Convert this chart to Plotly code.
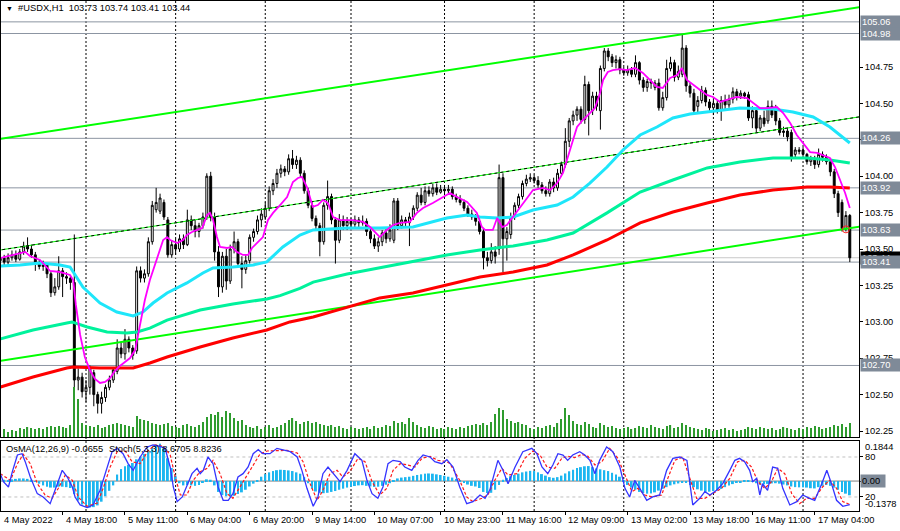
import plotly.graph_objects as go

# #USDX H1, one entry per hourly bar (bar index is the x value)
bar = list(range(219))

open_ = [103.42, 103.44, 103.41, 103.44, 103.46, 103.43, 103.48, 103.52, 103.50, 103.46,
         103.40, 103.38, 103.39, 103.33, 103.20, 103.24, 103.35, 103.31, 103.30, 103.27,
         102.60, 102.62, 102.52, 102.55, 102.65, 102.50, 102.44, 102.48, 102.55, 102.60,
         102.66, 102.82, 102.78, 102.88, 102.82, 102.80, 103.35, 103.30, 103.33, 103.55,
         103.77, 103.76, 103.82, 103.70, 103.46, 103.53, 103.50, 103.57, 103.53, 103.70,
         103.66, 103.62, 103.66, 103.72, 104.00, 103.72, 103.48, 103.24, 103.45, 103.28,
         103.50, 103.55, 103.40, 103.36, 103.42, 103.58, 103.62, 103.70, 103.72, 103.78,
         103.90, 103.95, 104.02, 104.05, 104.03, 104.12, 104.08, 104.11, 104.02, 103.90,
         103.80, 103.71, 103.66, 103.55, 103.80, 103.86, 103.70, 103.56, 103.70, 103.66,
         103.69, 103.67, 103.70, 103.68, 103.69, 103.62, 103.57, 103.52, 103.55, 103.61,
         103.57, 103.56, 103.83, 103.66, 103.70, 103.68, 103.72, 103.78, 103.87, 103.82,
         103.90, 103.88, 103.92, 103.89, 103.91, 103.90, 103.91, 103.86, 103.84, 103.82,
         103.78, 103.74, 103.72, 103.69, 103.62, 103.44, 103.42, 103.48, 103.50, 103.99,
         103.57, 103.60, 103.72, 103.80, 103.86, 103.95, 103.98, 103.99, 103.97, 103.94,
         103.90, 103.88, 103.96, 103.92, 104.02, 104.08, 104.24, 104.38, 104.42, 104.46,
         104.39, 104.63, 104.45, 104.55, 104.45, 104.74, 104.86, 104.82, 104.78, 104.80,
         104.73, 104.71, 104.73, 104.70, 104.78, 104.66, 104.61, 104.65, 104.61, 104.64,
         104.47, 104.54, 104.74, 104.78, 104.68, 104.70, 104.88, 104.62, 104.57, 104.48,
         104.52, 104.59, 104.51, 104.47, 104.50, 104.45, 104.52, 104.49, 104.53, 104.58,
         104.55, 104.57, 104.56, 104.40, 104.45, 104.33, 104.40, 104.38, 104.48, 104.46,
         104.38, 104.30, 104.31, 104.30, 104.15, 104.17, 104.18, 104.15, 104.10, 104.12,
         104.08, 104.15, 104.13, 104.10, 104.03, 103.88, 103.82, 103.64, 103.73]

high = [103.47, 103.46, 103.47, 103.49, 103.49, 103.50, 103.55, 103.58, 103.53, 103.48,
        103.43, 103.42, 103.40, 103.35, 103.30, 103.45, 103.37, 103.34, 103.32, 103.60,
        102.68, 102.65, 102.60, 102.70, 102.67, 102.52, 102.52, 102.57, 102.63, 102.69,
        102.88, 102.86, 102.95, 102.90, 102.84, 103.38, 103.38, 103.36, 103.58, 103.83,
        103.92, 103.88, 103.84, 103.72, 103.56, 103.57, 103.60, 103.60, 103.77, 103.73,
        103.70, 103.68, 103.75, 104.02, 104.03, 103.75, 103.52, 103.48, 103.50, 103.53,
        103.62, 103.57, 103.45, 103.46, 103.60, 103.64, 103.73, 103.78, 103.82, 103.93,
        103.98, 104.05, 104.08, 104.07, 104.15, 104.18, 104.14, 104.13, 104.04, 103.92,
        103.83, 103.73, 103.68, 103.82, 103.97, 103.88, 103.72, 103.74, 103.73, 103.72,
        103.71, 103.73, 103.72, 103.73, 103.71, 103.64, 103.60, 103.58, 103.63, 103.64,
        103.67, 103.85, 103.85, 103.73, 103.72, 103.75, 103.80, 103.89, 103.92, 103.93,
        103.93, 103.95, 103.95, 103.94, 103.94, 103.94, 103.93, 103.88, 103.87, 103.84,
        103.80, 103.77, 103.74, 103.71, 103.64, 103.48, 103.54, 103.52, 104.08, 104.02,
        103.65, 103.75, 103.82, 103.88, 103.97, 104.01, 104.02, 104.01, 104.00, 103.96,
        103.93, 103.98, 103.99, 104.05, 104.10, 104.33, 104.40, 104.45, 104.48, 104.48,
        104.69, 104.65, 104.58, 104.58, 104.76, 104.88, 104.88, 104.84, 104.83, 104.82,
        104.75, 104.76, 104.75, 104.83, 104.79, 104.68, 104.67, 104.67, 104.66, 104.67,
        104.58, 104.80, 104.82, 104.80, 104.76, 104.97, 104.90, 104.64, 104.60, 104.55,
        104.62, 104.61, 104.53, 104.53, 104.52, 104.55, 104.56, 104.56, 104.61, 104.60,
        104.59, 104.58, 104.58, 104.48, 104.47, 104.42, 104.45, 104.52, 104.52, 104.49,
        104.40, 104.34, 104.33, 104.32, 104.20, 104.20, 104.20, 104.16, 104.14, 104.14,
        104.19, 104.17, 104.15, 104.12, 104.05, 103.90, 103.84, 103.76, 103.74]

low = [103.40, 103.39, 103.39, 103.42, 103.41, 103.42, 103.46, 103.48, 103.44, 103.35,
       103.36, 103.35, 103.30, 103.17, 103.18, 103.22, 103.17, 103.26, 103.22, 102.55,
       102.53, 102.48, 102.45, 102.50, 102.42, 102.37, 102.37, 102.45, 102.53, 102.58,
       102.64, 102.75, 102.74, 102.79, 102.74, 102.78, 103.27, 103.27, 103.31, 103.53,
       103.75, 103.74, 103.70, 103.44, 103.44, 103.46, 103.48, 103.50, 103.52, 103.63,
       103.58, 103.58, 103.64, 103.70, 103.69, 103.42, 103.17, 103.20, 103.22, 103.26,
       103.47, 103.38, 103.23, 103.33, 103.40, 103.55, 103.60, 103.65, 103.70, 103.76,
       103.87, 103.92, 103.99, 104.00, 104.01, 104.05, 104.05, 103.99, 103.88, 103.78,
       103.69, 103.63, 103.45, 103.53, 103.77, 103.67, 103.40, 103.54, 103.63, 103.63,
       103.64, 103.65, 103.65, 103.66, 103.59, 103.54, 103.50, 103.48, 103.52, 103.54,
       103.55, 103.54, 103.63, 103.64, 103.65, 103.52, 103.70, 103.76, 103.80, 103.80,
       103.86, 103.86, 103.87, 103.88, 103.88, 103.88, 103.84, 103.82, 103.80, 103.76,
       103.72, 103.70, 103.66, 103.60, 103.36, 103.38, 103.40, 103.40, 103.46, 103.34,
       103.42, 103.57, 103.70, 103.78, 103.84, 103.93, 103.96, 103.95, 103.92, 103.88,
       103.86, 103.86, 103.89, 103.90, 104.00, 104.06, 104.20, 104.35, 104.38, 104.36,
       104.36, 104.28, 104.42, 104.45, 104.32, 104.72, 104.79, 104.75, 104.74, 104.70,
       104.69, 104.69, 104.68, 104.68, 104.63, 104.58, 104.58, 104.60, 104.59, 104.45,
       104.45, 104.52, 104.72, 104.65, 104.66, 104.68, 104.58, 104.54, 104.43, 104.44,
       104.50, 104.48, 104.44, 104.42, 104.43, 104.38, 104.46, 104.47, 104.50, 104.52,
       104.53, 104.53, 104.38, 104.33, 104.30, 104.31, 104.34, 104.36, 104.40, 104.35,
       104.28, 104.27, 104.24, 104.10, 104.13, 104.15, 104.12, 104.08, 104.07, 104.05,
       104.06, 104.10, 104.08, 104.00, 103.85, 103.72, 103.62, 103.62, 103.41]

close = [103.44, 103.41, 103.44, 103.46, 103.43, 103.48, 103.52, 103.50, 103.46, 103.40,
         103.38, 103.39, 103.33, 103.20, 103.24, 103.35, 103.31, 103.30, 103.27, 102.60,
         102.62, 102.52, 102.55, 102.68, 102.50, 102.44, 102.48, 102.55, 102.60, 102.67,
         102.82, 102.78, 102.88, 102.82, 102.77, 103.35, 103.30, 103.33, 103.55, 103.80,
         103.82, 103.85, 103.72, 103.46, 103.53, 103.50, 103.57, 103.53, 103.70, 103.66,
         103.62, 103.66, 103.72, 104.00, 103.72, 103.48, 103.24, 103.45, 103.28, 103.50,
         103.55, 103.40, 103.36, 103.42, 103.58, 103.62, 103.70, 103.74, 103.78, 103.90,
         103.95, 104.02, 104.05, 104.03, 104.12, 104.08, 104.11, 104.02, 103.90, 103.80,
         103.71, 103.66, 103.55, 103.80, 103.86, 103.70, 103.56, 103.70, 103.66, 103.69,
         103.67, 103.70, 103.68, 103.69, 103.62, 103.57, 103.52, 103.55, 103.61, 103.57,
         103.63, 103.83, 103.66, 103.70, 103.68, 103.72, 103.78, 103.87, 103.82, 103.90,
         103.88, 103.92, 103.89, 103.91, 103.90, 103.91, 103.86, 103.84, 103.82, 103.78,
         103.74, 103.72, 103.69, 103.62, 103.44, 103.42, 103.48, 103.45, 103.99, 103.57,
         103.62, 103.72, 103.80, 103.86, 103.95, 103.98, 103.99, 103.97, 103.94, 103.90,
         103.88, 103.96, 103.92, 104.02, 104.08, 104.24, 104.38, 104.42, 104.46, 104.39,
         104.63, 104.45, 104.55, 104.48, 104.74, 104.86, 104.82, 104.78, 104.80, 104.73,
         104.71, 104.73, 104.70, 104.78, 104.66, 104.61, 104.65, 104.64, 104.64, 104.47,
         104.54, 104.74, 104.78, 104.68, 104.72, 104.88, 104.62, 104.57, 104.45, 104.52,
         104.59, 104.51, 104.47, 104.50, 104.45, 104.52, 104.49, 104.53, 104.58, 104.55,
         104.57, 104.55, 104.40, 104.45, 104.33, 104.40, 104.36, 104.48, 104.42, 104.38,
         104.30, 104.31, 104.27, 104.13, 104.18, 104.18, 104.15, 104.10, 104.12, 104.08,
         104.15, 104.13, 104.10, 104.03, 103.88, 103.75, 103.64, 103.73, 103.44]

volume = [6, 8, 5, 7, 6, 9, 8, 10, 9, 8,
          9, 8, 10, 11, 10, 11, 10, 9, 12,
          50, 38, 14, 12, 11, 10, 12, 9, 10, 12,
          13, 14, 13, 12, 11, 10,
          21, 18, 17, 16, 14, 13, 12, 13, 14, 11,
          10, 9, 12, 13, 11, 10, 12, 15,
          20, 23, 22, 25, 20, 26, 24, 19, 16, 17, 12,
          10, 9, 11, 8, 10, 12, 9,
          10, 12, 14, 17, 19, 16,
          13, 15, 16, 14, 15, 13, 12, 11,
          12, 10, 11, 9, 8, 10, 9, 8,
          9, 10, 8, 11, 9, 10, 12, 11,
          16, 14, 15, 13, 19, 15, 12, 10,
          9, 11, 10, 8, 9, 8, 10, 9,
          8, 10, 9, 11, 12, 13, 12,
          14, 12, 15, 23, 29, 27, 18, 16, 14, 15, 13, 12,
          9, 8, 10, 9, 11, 12, 10,
          14, 18, 29, 22, 16, 13, 12,
          15, 13, 10, 9, 14, 12, 10, 11, 9,
          8, 9, 10, 8, 9, 11, 10, 9, 12, 10, 9, 8,
          11, 12, 9, 10, 14, 12, 10, 9,
          8, 7, 9, 8, 6, 7, 8, 9, 7, 8, 6, 7, 8,
          10, 9, 8, 10, 9, 8, 9, 7, 8, 10, 9, 8, 7, 9,
          8, 10, 9, 11, 10, 8, 9, 10, 12, 11, 13, 10, 14]

# moving averages (bar position, price)
fast_bar = [0, 5.1, 6.4, 7.6, 10.2, 12.8, 15.3, 17.9, 18.7, 19.4,
            20.5, 21.7, 23, 24.3, 25.6, 26.9, 28.2, 29.4, 30.7, 32,
            33.3, 34.6, 35.9, 37.1, 38.4, 39.7, 41, 41.8, 42.8, 43.6,
            45.4, 46.9, 47.9, 49.2, 50.5, 51.8, 53.1, 53.8, 54.6, 55.6,
            56.4, 58.2, 59.5, 60.7, 62.3, 63.6, 64.6, 65.9, 67.4, 68.7,
            70, 71.8, 73.6, 75.1, 76.4, 77.4, 78.7, 80.2, 81.5, 82.8,
            84.1, 85.4, 87.2, 90.5, 93.1, 94.9, 96.7, 97.4, 99.2, 100.8,
            102.6, 105.1, 106.9, 108.5, 111, 113.6, 115.4, 117.2, 119.8, 122.3,
            123.6, 124.4, 126.4, 127.5, 128.8, 130, 131.6, 133.4, 135.2, 136.7,
            139.3, 141.1, 142.9, 144.4, 146.2, 148, 149.5, 151.3, 152.6, 153.9,
            154.7, 155.9, 157.2, 159, 160.8, 162.9, 164.9, 166.7, 168.5, 170,
            171.9, 173.7, 174.9, 176.2, 177.8, 179.6, 181.3, 182.9, 184.7, 186.5,
            189, 191.6, 193.2, 194.9, 196.8, 199.3, 200.9, 202.7, 204.4, 206,
            207.8, 209.6, 211.1, 212.9, 214.2, 215.5, 216.8, 218]
fast_ma = [103.438, 103.473, 103.480, 103.452, 103.425, 103.349, 103.342, 103.322, 103.287, 103.116,
           102.910, 102.758, 102.669, 102.607, 102.580, 102.587, 102.614, 102.662, 102.697, 102.724,
           102.751, 102.806, 102.978, 103.150, 103.287, 103.390, 103.493, 103.562, 103.582, 103.562,
           103.541, 103.562, 103.596, 103.617, 103.631, 103.644, 103.734, 103.748, 103.700, 103.582,
           103.514, 103.507, 103.514, 103.480, 103.459, 103.459, 103.507, 103.541, 103.582, 103.700,
           103.748, 103.802, 103.857, 103.960, 103.988, 103.995, 103.926, 103.789, 103.802, 103.837,
           103.816, 103.720, 103.699, 103.699, 103.686, 103.651, 103.596, 103.582, 103.631, 103.665,
           103.679, 103.686, 103.748, 103.782, 103.816, 103.857, 103.885, 103.857, 103.823, 103.748,
           103.651, 103.631, 103.631, 103.713, 103.651, 103.665, 103.720, 103.789, 103.850, 103.905,
           103.919, 103.905, 103.953, 104.022, 104.180, 104.338, 104.386, 104.434, 104.468, 104.571,
           104.661, 104.716, 104.729, 104.736, 104.729, 104.743, 104.709, 104.661, 104.613, 104.606,
           104.675, 104.695, 104.743, 104.661, 104.626, 104.592, 104.558, 104.544, 104.510, 104.523,
           104.544, 104.537, 104.503, 104.468, 104.468, 104.475, 104.434, 104.365, 104.283, 104.228,
           104.166, 104.160, 104.146, 104.125, 104.063, 103.974, 103.885, 103.782]

cyan_bar = [0, 5.1, 10.2, 15.3, 17.9, 19.2, 21.2, 25.6, 29.9, 34.1,
            36.6, 39.2, 42.8, 47.9, 52, 54.6, 59.7, 64.9, 68.4, 72.5,
            76.9, 80.3, 89, 97.4, 105.9, 114.6, 119.8, 123.1, 127.5, 131.6,
            136.7, 142.9, 147, 151.3, 155.7, 159.8, 164.2, 168.5, 172.6, 177,
            181.4, 189.8, 198.3, 203.4, 208.6, 212.9, 218]
cyan_ma = [103.383, 103.390, 103.404, 103.390, 103.376, 103.321, 103.239, 103.129, 103.067, 103.040,
           103.067, 103.129, 103.198, 103.267, 103.335, 103.370, 103.376, 103.390, 103.411, 103.514,
           103.596, 103.631, 103.644, 103.644, 103.651, 103.713, 103.734, 103.720, 103.713, 103.720,
           103.768, 103.802, 103.857, 103.953, 104.063, 104.180, 104.283, 104.338, 104.400, 104.427,
           104.441, 104.468, 104.462, 104.441, 104.407, 104.338, 104.228]

green_bar = [0, 8.4, 17.1, 18.4, 22.3, 27.4, 32.5, 35.1, 38.4, 42.8,
             51.3, 59.7, 68.4, 71.8, 76.9, 80.3, 89, 97.4, 105.9, 114.6,
             123.1, 131.6, 140.3, 147, 155.7, 164.2, 172.6, 181.4, 189.8, 198.3,
             207, 212.9, 218]
green_ma = [102.882, 102.944, 102.992, 102.999, 102.964, 102.930, 102.923, 102.930, 102.957, 103.012,
            103.081, 103.122, 103.157, 103.180, 103.230, 103.273, 103.328, 103.370, 103.411, 103.459,
            103.493, 103.521, 103.562, 103.610, 103.748, 103.891, 103.974, 104.057, 104.098, 104.125,
            104.125, 104.111, 104.091]

red_bar = [0, 8.4, 17.1, 18.7, 25.6, 34.1, 38.4, 42.8, 51.3, 59.7,
           68.4, 74.3, 80.3, 89, 97.4, 105.9, 114.6, 123.1, 131.6, 140.3,
           147, 155.7, 164.2, 172.6, 181.4, 189.8, 198.3, 207, 212.9, 218]
red_ma = [102.552, 102.621, 102.683, 102.690, 102.683, 102.683, 102.717, 102.758, 102.827, 102.889,
          102.944, 102.999, 103.033, 103.102, 103.164, 103.198, 103.253, 103.308, 103.342, 103.390,
          103.459, 103.562, 103.679, 103.754, 103.816, 103.871, 103.905, 103.926, 103.926, 103.919]

# equidistant channel, endpoints just outside the visible bars
chan_bar = [-1, 222]
chan_top = [104.252, 105.167]
chan_mid = [103.489, 104.414]
chan_low = [102.727, 103.660]

levels = [105.06, 104.98, 104.26, 103.92, 103.63, 102.70, 103.41]
bid = 103.44

# OsMA(12,26,9) histogram, one value per bar
osma = [0.008, 0.006, 0.004, 0.008, 0.010, 0.012, 0.012, 0.010, 0.006,
        -0.004, -0.012, -0.020, -0.026, -0.030, -0.030, -0.026, -0.026, -0.028, -0.032,
        -0.060, -0.090, -0.108, -0.118, -0.122, -0.120, -0.112, -0.095, -0.070, -0.045, -0.020,
        0.030, 0.055, 0.068, 0.075, 0.083, 0.100, 0.112, 0.125, 0.140, 0.155, 0.168, 0.172,
        0.150, 0.105, 0.060, 0.025, -0.010, -0.020, -0.018, -0.020, -0.022, -0.018, -0.008, 0.008, 0.006,
        -0.020, -0.050, -0.065, -0.070, -0.072, -0.068, -0.060, -0.052, -0.040, -0.025, -0.012,
        0.004, 0.020, 0.032, 0.040, 0.046, 0.050, 0.052, 0.051, 0.049, 0.046, 0.040, 0.034, 0.018,
        -0.010, -0.035, -0.048, -0.054, -0.056, -0.054, -0.050, -0.046, -0.040, -0.035, -0.030,
        -0.026, -0.023, -0.020, -0.019, -0.022, -0.025, -0.027, -0.026, -0.022, -0.017, -0.010,
        0.004, 0.012, 0.016, 0.018, 0.020, 0.024, 0.028, 0.031, 0.034, 0.035, 0.034, 0.031,
        0.028, 0.024, 0.020, 0.016, 0.010, 0.004,
        -0.008, -0.016, -0.022, -0.025, -0.032, -0.050, -0.055, -0.054, -0.040, -0.018,
        0.006, 0.014, 0.022, 0.028, 0.034, 0.040, 0.044, 0.047, 0.046, 0.040, 0.032, 0.025,
        0.018, 0.015, 0.018, 0.025, 0.035, 0.045, 0.052, 0.060, 0.064, 0.068, 0.069, 0.064,
        0.058, 0.054, 0.050, 0.046, 0.038, 0.030, 0.020, 0.005,
        -0.018, -0.030, -0.040, -0.050, -0.055, -0.058, -0.057, -0.052, -0.044, -0.036,
        -0.028, -0.020, -0.015, -0.011, -0.007, -0.008, -0.018, -0.028, -0.038, -0.044,
        -0.050, -0.049, -0.046, -0.042, -0.036, -0.028, -0.020, -0.014, -0.009, -0.005,
        0.002, 0.003,
        -0.004, -0.010, -0.017, -0.015, -0.013, -0.011, -0.010, -0.012, -0.016, -0.020,
        -0.025, -0.028, -0.029, -0.029, -0.030, -0.033, -0.034, -0.028, -0.022, -0.018,
        -0.022, -0.030, -0.040, -0.050, -0.058, -0.0655]

# Stochastic(5,3,3) main and signal, read at turning points
stoch_k_bar = [0, 0.8, 2.1, 3.1, 4.4, 5.6, 6.4, 7.7, 9.5, 11.0,
               12.8, 14.6, 15.9, 17.2, 18.5, 19.2, 20.5, 22.3, 23.8, 25.6,
               27.4, 28.7, 30.0, 31.5, 32.8, 34.1, 35.9, 37.7, 39.2, 41.0,
               42.3, 43.6, 44.4, 45.4, 46.7, 47.9, 49.2, 50.5, 51.3, 52.1,
               53.3, 54.6, 55.9, 57.2, 58.5, 59.7, 61.0, 62.3, 63.6, 64.9,
               66.2, 67.4, 69.2, 71.0, 72.6, 74.4, 76.2, 77.4, 78.7, 80.3,
               81.5, 82.8, 84.1, 85.4, 87.2, 89.0, 91.0, 92.8, 94.1, 95.4,
               96.9, 98.2, 99.5, 100.8, 102.6, 103.8, 105.6, 107.2, 108.5, 110.3,
               111.5, 113.3, 114.6, 116.2, 117.9, 119.7, 121.3, 123.1, 124.4, 125.6,
               127.7, 129.0, 130.3, 132.1, 134.1, 136.4, 137.7, 139.0, 140.5, 141.8,
               143.1, 144.4, 145.6, 146.9, 148.7, 150.0, 151.3, 152.6, 153.8, 155.6,
               157.2, 159.0, 160.3, 161.5, 162.8, 164.1, 165.9, 167.4, 169.2, 171.0,
               172.6, 174.4, 176.2, 177.7, 179.5, 180.8, 182.1, 183.8, 185.4, 187.2,
               188.5, 189.7, 191.0, 192.3, 193.1, 194.1, 194.9, 195.6, 196.9, 198.2,
               199.5, 200.8, 202.6, 204.4, 205.9, 207.7, 209.0, 210.8, 212.1, 213.3,
               214.6, 216.2, 218]
stoch_k = [55, 43, 35, 58, 83, 85, 73, 50, 25, 20,
           10, 40, 60, 50, 35, 20, 8, 4, 8, 30,
           65, 88, 93, 85, 70, 60, 80, 95, 98, 96,
           93, 65, 35, 13, 20, 38, 55, 63, 55, 60,
           80, 70, 35, 15, 15, 25, 50, 55, 65, 85,
           91, 85, 85, 93, 91, 88, 80, 60, 33, 6,
           20, 55, 65, 55, 43, 60, 85, 75, 45, 25,
           18, 35, 70, 75, 73, 65, 60, 75, 83, 80,
           73, 70, 76, 65, 35, 10, 13, 23, 18, 30,
           75, 60, 40, 65, 88, 93, 85, 65, 55, 68,
           85, 83, 75, 83, 88, 83, 75, 55, 75, 95,
           88, 65, 33, 20, 45, 33, 15, 20, 23, 60,
           78, 80, 75, 8, 18, 28, 23, 30, 40, 60,
           75, 78, 73, 60, 43, 48, 23, 40, 30, 65,
           63, 33, 8, 13, 23, 18, 15, 40, 60, 40,
           15, 6, 8.67]

stoch_d_bar = [0, 2.6, 4.4, 5.9, 7.7, 9.5, 11.5, 13.3, 14.9, 16.7,
               18.5, 20.0, 22.3, 24.9, 26.4, 28.2, 30.0, 32.1, 33.8, 35.9,
               37.9, 39.7, 41.8, 43.6, 44.9, 46.2, 47.9, 49.5, 51.3, 53.1,
               54.6, 56.4, 58.2, 59.7, 61.5, 63.3, 64.9, 66.7, 68.5, 71.0,
               73.6, 76.2, 77.7, 79.5, 81.3, 82.8, 84.6, 86.4, 87.9, 89.7,
               91.8, 93.6, 95.4, 97.4, 99.2, 100.8, 102.6, 104.6, 106.4, 108.2,
               110.3, 112.3, 114.6, 115.4, 117.9, 119.7, 121.3, 123.6, 125.1, 126.9,
               128.7, 130.3, 132.6, 134.6, 136.7, 138.5, 140.3, 142.3, 144.1, 145.6,
               147.4, 149.2, 150.8, 152.6, 154.4, 156.4, 158.5, 160.3, 162.1, 163.6,
               165.4, 167.4, 169.7, 171.3, 173.1, 175.1, 176.9, 178.7, 180.8, 182.8,
               185.1, 187.2, 189.2, 191.0, 192.8, 194.4, 196.2, 197.9, 199.5, 201.3,
               203.1, 205.1, 206.9, 209.0, 211.0, 212.8, 214.6, 216.2, 218]
stoch_d = [55, 45, 70, 84, 70, 40, 23, 18, 33, 53,
           45, 20, 6, 11, 33, 65, 88, 89, 73, 70,
           89, 98, 96, 83, 50, 23, 23, 45, 58, 63,
           75, 55, 25, 18, 35, 53, 68, 85, 89, 89,
           90, 86, 73, 40, 15, 30, 55, 60, 50, 58,
           78, 73, 43, 23, 33, 60, 70, 68, 65, 78,
           81, 75, 73, 70, 45, 20, 13, 18, 23, 45,
           63, 53, 55, 78, 89, 83, 65, 63, 78, 81,
           79, 84, 81, 68, 73, 93, 78, 53, 28, 33,
           23, 20, 23, 48, 75, 80, 50, 18, 18, 25,
           33, 48, 73, 75, 65, 43, 33, 43, 63, 55,
           25, 10, 18, 18, 35, 45, 33, 13, 8.82]

# time axis labels and day separators
tick_bar = [0, 16, 32, 48, 64, 80, 96, 113, 129, 145, 161, 177, 193, 209]
tick_text = ['4 May 2022', '4 May 18:00', '5 May 11:00', '6 May 04:00', '6 May 20:00',
             '9 May 14:00', '10 May 07:00', '10 May 23:00', '11 May 16:00', '12 May 09:00',
             '13 May 02:00', '13 May 18:00', '16 May 11:00', '17 May 04:00']
day_start = [22, 45, 68, 90, 114, 137, 160, 183, 206]

price_ticks = [102.25, 102.5, 102.75, 103.0, 103.25, 103.5, 103.75, 104.0, 104.25, 104.5, 104.75]
# 104.25 sits under the 104.26 level label in the terminal, so its text is not shown
price_tick_text = ['' if t == 104.25 else '%.2f' % t for t in price_ticks]

FONT = 'Liberation Sans'
FS = 9.3
LABEL_BG = '#7f8a98'
LEVEL_COL = '#8c95a2'
x_range = [0.187, 220.36]

fig = go.Figure()

fig.add_trace(go.Bar(x=bar, y=volume, yaxis='y2', width=0.3,
                     marker=dict(color='#2e9c2e', line=dict(width=0))))

for ys, w in [(chan_top, 2), (chan_low, 2), (chan_mid, 1)]:
    fig.add_trace(go.Scatter(x=chan_bar, y=ys, mode='lines',
                             line=dict(color='#00ff00', width=w)))
fig.add_trace(go.Scatter(x=chan_bar, y=chan_mid, mode='lines',
                         line=dict(color='#000000', width=1, dash='3px,3px')))

fig.add_trace(go.Candlestick(
    x=bar, open=open_, high=high, low=low, close=close,
    increasing=dict(line=dict(color='black', width=1), fillcolor='white'),
    decreasing=dict(line=dict(color='black', width=1), fillcolor='black'),
    whiskerwidth=0))

fig.add_trace(go.Scatter(x=red_bar, y=red_ma, mode='lines', line=dict(color='#ff0000', width=3)))
fig.add_trace(go.Scatter(x=green_bar, y=green_ma, mode='lines', line=dict(color='#00f29c', width=3)))
fig.add_trace(go.Scatter(x=cyan_bar, y=cyan_ma, mode='lines', line=dict(color='#1ee6fa', width=3)))
fig.add_trace(go.Scatter(x=fast_bar, y=fast_ma, mode='lines', line=dict(color='#ff00ff', width=1.8)))
fig.add_trace(go.Scatter(x=[217], y=[103.635], mode='markers',
                         marker=dict(symbol='circle-open', size=7, color='#ff2020', line=dict(width=1))))

# oscillator window
fig.add_trace(go.Bar(x=bar, y=osma, xaxis='x2', yaxis='y3', width=0.5,
                     marker=dict(color='#1cb6f0', line=dict(width=0))))
fig.add_trace(go.Scatter(x=stoch_d_bar, y=stoch_d, xaxis='x2', yaxis='y4', mode='lines',
                         line=dict(color='#ff1a1a', width=1.2, dash='3px,2px')))
fig.add_trace(go.Scatter(x=stoch_k_bar, y=stoch_k, xaxis='x2', yaxis='y4', mode='lines',
                         line=dict(color='#3434ff', width=1.3)))

shapes = []
for d in day_start:
    shapes.append(dict(type='line', xref='x', yref='paper', x0=d, x1=d, y0=0, y1=1,
                       line=dict(color='black', width=1, dash='2px,2px'), layer='below'))
for lv in levels:
    shapes.append(dict(type='line', xref='paper', yref='y', x0=0, x1=1, y0=lv, y1=lv,
                       line=dict(color=LEVEL_COL, width=1), layer='below'))
shapes.append(dict(type='line', xref='paper', yref='y', x0=0, x1=1, y0=bid, y1=bid,
                   line=dict(color='#c8c8c8', width=1), layer='below'))
shapes.append(dict(type='line', xref='x2', yref='y3', x0=-1, x1=222, y0=0, y1=0,
                   line=dict(color='#808080', width=1), layer='below'))
for lv in [20, 80]:
    shapes.append(dict(type='line', xref='x2', yref='y4', x0=-1, x1=222, y0=lv, y1=lv,
                       line=dict(color='#c0c0c0', width=1, dash='3px,3px'), layer='below'))

ann = []
ann.append(dict(xref='paper', yref='paper', x=0.003, y=0.986, xanchor='left', yanchor='middle',
                showarrow=False, font=dict(family=FONT, size=FS, color='black'),
                text='<span style="font-size:7px">▼</span>  #USDX,H1  103.73 103.74 103.41 103.44'))
ann.append(dict(xref='paper', yref='paper', x=0.003, y=0.1216, xanchor='left', yanchor='middle',
                showarrow=False, font=dict(family=FONT, size=FS, color='black'),
                text='OsMA(12,26,9) -0.0655'))
ann.append(dict(xref='paper', yref='paper', x=0.123, y=0.1216, xanchor='left', yanchor='middle',
                showarrow=False, font=dict(family=FONT, size=FS, color='black'),
                text='Stoch(5,3,3) 8.6705 8.8236'))

ann.append(dict(xref='paper', yref='y', x=1, y=bid, xanchor='left', yanchor='middle', xshift=1,
                showarrow=False, bgcolor='black', width=38, height=10, align='left',
                font=dict(family=FONT, size=FS, color='white'), text='%.2f' % bid))
for lv in levels:
    ann.append(dict(xref='paper', yref='y', x=1, y=lv, xanchor='left', yanchor='middle', xshift=1,
                    showarrow=False, bgcolor=LABEL_BG, width=38, height=10, align='left',
                    font=dict(family=FONT, size=FS, color='white'), text='%.2f' % lv))

for val, txt, sh in [(0.1844, '0.1844', -6), (-0.1378, '-0.1378', 7)]:
    ann.append(dict(xref='paper', yref='y3', x=1, y=val, xanchor='left', yanchor='middle', xshift=4,
                    yshift=sh, showarrow=False, font=dict(family=FONT, size=FS, color='black'), text=txt))
ann.append(dict(xref='paper', yref='y3', x=1, y=0, xanchor='left', yanchor='middle', xshift=1,
                showarrow=False, bgcolor=LABEL_BG, width=22, height=10, align='left',
                font=dict(family=FONT, size=FS, color='black'), text='0.00'))
for val in [80, 20]:
    ann.append(dict(xref='paper', yref='y4', x=1, y=val, xanchor='left', yanchor='middle', xshift=4,
                    showarrow=False, font=dict(family=FONT, size=FS, color='black'), text=str(val)))

for b, t in zip(tick_bar, tick_text):
    ann.append(dict(xref='x2', yref='paper', x=max(b, x_range[0]), y=-0.018, xanchor='left',
                    yanchor='middle', xshift=1, showarrow=False,
                    font=dict(family=FONT, size=FS, color='black'), text=t))

fig.update_layout(
    width=900, height=531,
    margin=dict(l=1, r=41, t=1, b=20),
    paper_bgcolor='white', plot_bgcolor='white',
    showlegend=False, hovermode=False,
    font=dict(family=FONT, size=FS, color='black'),
    shapes=shapes, annotations=ann,
    xaxis=dict(domain=[0, 1], range=x_range, anchor='y', showgrid=False, zeroline=False,
               showticklabels=False, ticks='', showline=True, mirror=True, linecolor='black',
               linewidth=1, rangeslider=dict(visible=False)),
    yaxis=dict(domain=[0.1451, 1], range=[102.2088, 105.2033], side='right', anchor='x',
               showgrid=False, zeroline=False, tickvals=price_ticks, ticktext=price_tick_text,
               ticks='outside', ticklen=3, tickcolor='black',
               showline=True, mirror=True, linecolor='black', linewidth=1,
               tickfont=dict(family=FONT, size=FS, color='black')),
    yaxis2=dict(overlaying='y', range=[0, 436], visible=False, anchor='x'),
    xaxis2=dict(domain=[0, 1], range=x_range, anchor='y3', matches='x', showgrid=False,
                zeroline=False, showticklabels=False, tickvals=tick_bar, ticks='outside',
                ticklen=3, tickcolor='black', showline=True, mirror=True, linecolor='black',
                linewidth=1),
    yaxis3=dict(domain=[0, 0.1373], range=[-0.1378, 0.1844], anchor='x2', side='right',
                showgrid=False, zeroline=False, showticklabels=False, tickvals=[0],
                ticks='outside', ticklen=3, tickcolor='black', showline=True, mirror=True,
                linecolor='black', linewidth=1),
    yaxis4=dict(overlaying='y3', range=[-1.05, 104.05], anchor='x2', side='right',
                showgrid=False, zeroline=False, showticklabels=False, tickvals=[20, 80],
                ticks='outside', ticklen=3, tickcolor='black', showline=False),
)

# the page's default body margin would push the 900x531 figure off the window
fig.write_html("out.html", config={'displayModeBar': False},
               post_script="document.body.style.margin='0';")
